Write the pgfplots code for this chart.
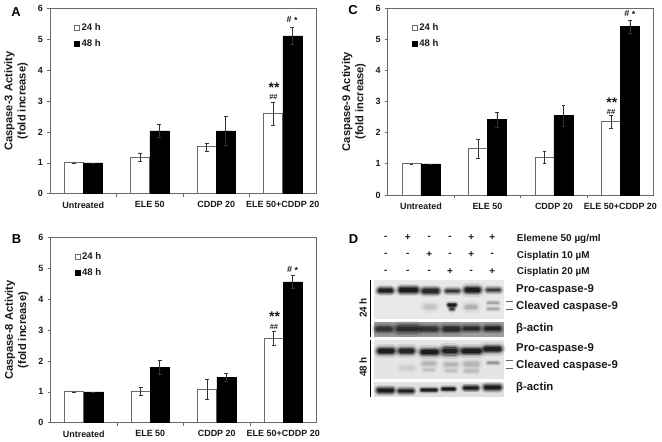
\documentclass[border=0pt]{standalone}
\usepackage{pgfplots}
\pgfplotsset{compat=1.18}
\usepackage{fontspec}
\setmainfont{Liberation Sans}
\definecolor{ax}{HTML}{6A6A6A}
\definecolor{tx}{HTML}{1A1A1A}
\pgfplotsset{
 panel/.style={
  scale only axis, width=266bp, height=185bp,
  anchor=south west,
  ymin=0, ymax=6, xmin=-0.5, xmax=3.5,
  ytick={0,1,2,3,4,5,6},
  xtick={0.5,1.5,2.5},
  xticklabels={},
  extra x ticks={0,1,2,3},
  extra x tick labels={Untreated,ELE 50,CDDP 20,ELE 50+CDDP 20},
  extra x tick style={major tick length=0pt},
  tick align=outside, tick pos=left,
  major tick length=3bp,
  axis line style={draw=ax, line width=0.9pt},
  every tick/.style={draw=ax, line width=0.7pt},
  /pgf/number format/assume math mode=true,
  tick label style={font=\fontsize{9}{10}\selectfont\bfseries, text=tx},
  y tick label style={xshift=-0.5pt},
  x tick label style={yshift=-4.5pt},
  ylabel style={align=center, font=\fontsize{11.2}{13.2}\selectfont\bfseries, text=tx, at={(axis description cs:-0.07,0.5)}, anchor=south},
  ybar=0pt, bar width=19bp,
  clip=false,
  legend style={draw=none, fill=none, font=\fontsize{9.6}{10.5}\selectfont\bfseries, text=tx, at={(0.09,0.93)}, anchor=north west, row sep=3.5pt, inner sep=0pt},
  legend image code/.code={\draw[#1, line width=0.5pt] (0bp,-2.5bp) rectangle (5bp,2.5bp);},
  legend cell align=left,
 },
 w/.style={fill=white, draw=ax, line width=0.8pt, error bars/.cd, y dir=both, y explicit, error bar style={draw=black!80, line width=0.6pt}, error mark options={draw=black!80, mark size=1.8bp, rotate=90}},
 k/.style={fill=black, draw=black, line width=0.4pt, error bars/.cd, y dir=both, y explicit, error bar style={draw=black!80, line width=0.6pt}, error mark options={draw=black!80, mark size=1.8bp, rotate=90}},
}
\tikzset{
 star/.style={font=\fontsize{#1}{#1}\selectfont\bfseries, text=tx, inner sep=0pt},
 h/.style={font=\fontsize{10}{11}\selectfont\bfseries, text=tx, anchor=west, inner sep=0pt},
 s/.style={font=\fontsize{10}{11}\selectfont\bfseries, text=tx, inner sep=0pt},
 b/.style={font=\fontsize{11.4}{13}\selectfont\bfseries, text=tx, anchor=west, inner sep=0pt},
 p/.style={font=\fontsize{13}{15}\selectfont\bfseries, text=black, inner sep=0pt}}
% one layer of a band: x1 x2 y thickness opacity-of-band width-factor opacity-factor
\newcommand\layer[7]{%
 \pgfmathsetmacro\layerop{#5*#7}%
 \pgfmathsetmacro\layerlw{#4*#6}%
 \edef\temp{\noexpand\addplot[black, line cap=round, line width=\layerlw bp, opacity=\layerop, forget plot] coordinates {(#1,#3) (#2,#3)};}%
 \temp
}
\newcommand\band[5]{%
 \layer{#1}{#2}{#3}{#4}{#5}{2.2}{0.1}%
 \layer{#1}{#2}{#3}{#4}{#5}{1.8}{0.18}%
 \layer{#1}{#2}{#3}{#4}{#5}{1.4}{0.28}%
 \layer{#1}{#2}{#3}{#4}{#5}{1.0}{0.4}%
 \layer{#1}{#2}{#3}{#4}{#5}{0.6}{0.6}%
}
\newcommand\strip[5]{%
 \addplot[fill=#5, draw=none, forget plot] coordinates {(#1,#3) (#2,#3) (#2,#4) (#1,#4)};
}
\begin{document}
\begin{tikzpicture}[x=1bp,y=1bp]
\useasboundingbox (0,0) rectangle (662,442);
% ---------- A
\begin{axis}[panel, at={(50bp,248.3bp)}, ylabel={Caspase-3 Activity\\(fold increase)}]
\addplot[w] coordinates {(0,1) +- (0,0) (1,1.17) +- (0,0.13) (2,1.52) +- (0,0.13) (3,2.6) +- (0,0.38)};
\addplot[k] coordinates {(0,1) +- (0,0) (1,2.04) +- (0,0.2) (2,2.04) +- (0,0.46) (3,5.12) +- (0,0.27)};
\legend{24 h,48 h}
\node[star=9] at (axis cs:3.14,5.62) {\# \raisebox{-1pt}{*}};
\node[star=14] at (axis cs:2.87,3.45) {**};
\node[star=7.5] at (axis cs:2.86,3.13) {\#\#};
\end{axis}
% ---------- B
\begin{axis}[panel, at={(50.5bp,19.3bp)}, ylabel={Caspase-8 Activity\\(fold increase)}]
\addplot[w] coordinates {(0,1) +- (0,0) (1,1.02) +- (0,0.13) (2,1.08) +- (0,0.32) (3,2.74) +- (0,0.24)};
\addplot[k] coordinates {(0,1) +- (0,0) (1,1.8) +- (0,0.22) (2,1.48) +- (0,0.13) (3,4.57) +- (0,0.21)};
\legend{24 h,48 h}
\node[star=9] at (axis cs:3.14,4.97) {\# \raisebox{-1pt}{*}};
\node[star=14] at (axis cs:2.87,3.43) {**};
\node[star=7.5] at (axis cs:2.86,3.12) {\#\#};
\end{axis}
% ---------- C
\begin{axis}[panel, at={(387.7bp,247bp)}, height=187bp, ylabel={Caspase-9 Activity\\(fold increase)}]
\addplot[w] coordinates {(0,1) +- (0,0) (1,1.49) +- (0,0.31) (2,1.21) +- (0,0.18) (3,2.35) +- (0,0.21)};
\addplot[k] coordinates {(0,1) +- (0,0) (1,2.42) +- (0,0.25) (2,2.55) +- (0,0.33) (3,5.4) +- (0,0.22)};
\legend{24 h,48 h}
\node[star=9] at (axis cs:3.14,5.82) {\# \raisebox{-1pt}{*}};
\node[star=14] at (axis cs:2.87,2.97) {**};
\node[star=7.5] at (axis cs:2.86,2.68) {\#\#};
\end{axis}
% ---------- D and panel letters, in pixel coordinates of the picture
\begin{axis}[at={(0bp,0bp)}, anchor=south west, scale only axis, width=662bp, height=442bp,
 xmin=0, xmax=662, ymin=0, ymax=442, y dir=reverse, hide axis, clip=false]
\strip{374}{504}{280}{319}{black!9}
\strip{374}{504}{322.3}{336.7}{black!38}
\strip{374}{504}{340}{379.3}{black!10}
\strip{374}{504}{382.3}{396.7}{black!12}
% 24 h pro
\band{380}{391}{291}{5}{1}
\band{401}{416}{290}{5.5}{1}
\band{424}{437}{291}{5.5}{0.85}
\band{447}{458}{291}{4.5}{0.75}
\band{467}{478}{290}{6}{1}
\band{488}{499}{290}{4.5}{0.7}
% 24 h cleaved
\band{426}{434}{307}{6}{0.1}
\band{449}{455}{305}{3.5}{1}
\band{451}{453}{309}{3.5}{0.7}
\band{467}{475}{307}{6}{0.16}
\band{488}{498}{303}{3}{0.2}
\band{488}{498}{309}{3}{0.18}
% 24 h actin
\band{378}{390}{329}{6}{0.6}
\band{399}{416}{329}{7}{0.7}
\band{422}{436}{329}{6}{0.6}
\band{445}{458}{329}{6}{0.7}
\band{465}{478}{329}{5}{0.7}
\band{486}{499}{329}{5}{0.8}
% 48 h pro
\band{380}{392}{351}{6}{1}
\band{401}{412}{351}{6}{0.9}
\band{423}{436}{352}{6}{1}
\band{445}{455}{351}{7}{0.95}
\band{464}{479}{351}{6}{1}
\band{486}{499}{349}{6}{0.95}
% 48 h cleaved
\band{402}{412}{368}{6}{0.06}
\band{424}{434}{364}{5}{0.14}
\band{424}{434}{370}{3}{0.1}
\band{446}{456}{365}{5}{0.14}
\band{446}{456}{371}{3}{0.1}
\band{466}{477}{364}{6}{0.14}
\band{466}{477}{371}{4}{0.12}
\band{488}{498}{363}{3}{0.25}
% 48 h actin
\band{379}{392}{390}{5}{1}
\band{400}{412}{391}{4.5}{0.95}
\band{422}{436}{390}{3.5}{0.95}
\band{443}{454}{389}{3.5}{1}
\band{465}{477}{388}{4}{1}
\band{486}{499}{387}{5}{1}
% frames and brackets
\addplot[black, line width=0.8pt, forget plot] coordinates {(370.7,280) (370.7,336.7)};
\addplot[black, line width=0.8pt, forget plot] coordinates {(370.7,340) (370.7,397.3)};
\addplot[black!60, line width=0.5pt, forget plot] coordinates {(505.5,301.7) (512.5,301.7)};
\addplot[black!60, line width=0.5pt, forget plot] coordinates {(505.5,309.3) (512.5,309.3)};
\addplot[black!60, line width=0.5pt, forget plot] coordinates {(505.5,360.7) (512.5,360.7)};
\addplot[black!60, line width=0.5pt, forget plot] coordinates {(505.5,368.3) (512.5,368.3)};
% header
\node[p] at (axis cs:16,12) {A};
\node[p] at (axis cs:16.5,239) {B};
\node[p] at (axis cs:353,10.5) {C};
\node[p] at (axis cs:353.5,239.5) {D};
\node[s] at (axis cs:385.7,238) {-};
\node[s] at (axis cs:407.7,238) {+};
\node[s] at (axis cs:429.3,238) {-};
\node[s] at (axis cs:450,238) {-};
\node[s] at (axis cs:471.3,238) {+};
\node[s] at (axis cs:492.3,238) {+};
\node[s] at (axis cs:385.7,255) {-};
\node[s] at (axis cs:407.7,255) {-};
\node[s] at (axis cs:429.3,255) {+};
\node[s] at (axis cs:450,255) {-};
\node[s] at (axis cs:471.3,255) {+};
\node[s] at (axis cs:492.3,255) {-};
\node[s] at (axis cs:385.7,272) {-};
\node[s] at (axis cs:407.7,272) {-};
\node[s] at (axis cs:429.3,272) {-};
\node[s] at (axis cs:450,272) {+};
\node[s] at (axis cs:471.3,272) {-};
\node[s] at (axis cs:492.3,272) {+};
\node[h] at (axis cs:516.7,238.5) {Elemene 50 µg/ml};
\node[h] at (axis cs:516.7,255.5) {Cisplatin 10 µM};
\node[h] at (axis cs:516.7,272) {Cisplatin 20 µM};
\node[b] at (axis cs:516,290) {Pro-caspase-9};
\node[b] at (axis cs:516,306.7) {Cleaved caspase-9};
\node[b] at (axis cs:516,329) {β-actin};
\node[b] at (axis cs:516,349) {Pro-caspase-9};
\node[b] at (axis cs:516,365.5) {Cleaved caspase-9};
\node[b] at (axis cs:516,387.7) {β-actin};
\node[font=\fontsize{10}{11}\selectfont\bfseries, text=tx, rotate=90, inner sep=0pt] at (axis cs:363,308) {24 h};
\node[font=\fontsize{10}{11}\selectfont\bfseries, text=tx, rotate=90, inner sep=0pt] at (axis cs:363,367) {48 h};
\end{axis}
\end{tikzpicture}
\end{document}
